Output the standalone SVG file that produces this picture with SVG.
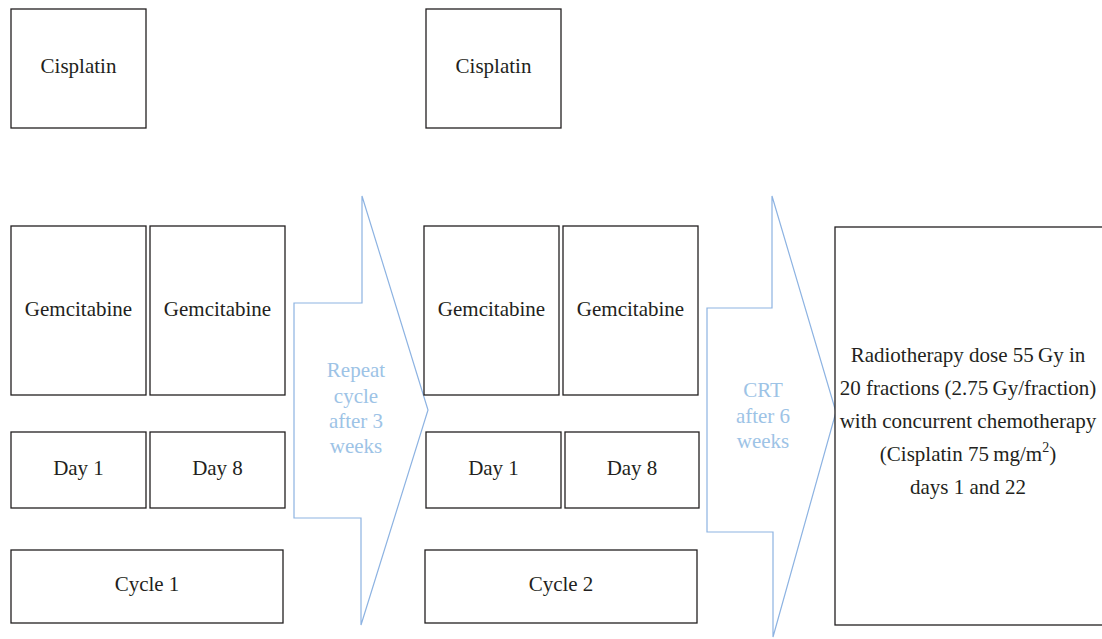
<svg xmlns="http://www.w3.org/2000/svg" width="1102" height="639" viewBox="0 0 1102 639">
<style>
.box{fill:#fff;stroke:#231f20;stroke-width:1.3}
.t{font-family:'Liberation Serif','Times New Roman','DejaVu Serif',serif;font-size:21px;fill:#231f20;text-anchor:middle}
.arrow{fill:#fff;stroke:#8db3e2;stroke-width:1.2}
.at{font-family:'Liberation Serif','Times New Roman','DejaVu Serif',serif;font-size:21px;fill:#9dc3e6;text-anchor:middle}
</style>
<rect width="1102" height="639" fill="#fff"/>
<g id="connectors">
<g id="arrow1"><polygon class="arrow" points="294,303 362,303 362,196 428,410 361,625 361,518 294,518"/>
<text class="at"><tspan x="356" y="377">Repeat</tspan><tspan x="356" y="403">cycle</tspan><tspan x="356" y="428">after 3</tspan><tspan x="356" y="453">weeks</tspan></text></g>
<g id="arrow2"><polygon class="arrow" points="707,308 772,308 772,196 836,412 773,637 773,532 707,532"/>
<text class="at"><tspan x="763" y="397">CRT</tspan><tspan x="763" y="423">after 6</tspan><tspan x="763" y="448">weeks</tspan></text></g>
</g>
<g id="cisplatin1"><rect class="box" x="11" y="9" width="135" height="119"/><text class="t" x="78.5" y="73">Cisplatin</text></g>
<g id="gem1a"><rect class="box" x="11" y="226" width="135" height="169"/><text class="t" x="78.5" y="316">Gemcitabine</text></g>
<g id="gem1b"><rect class="box" x="150" y="226" width="135" height="169"/><text class="t" x="217.5" y="316">Gemcitabine</text></g>
<g id="day1a"><rect class="box" x="11" y="432" width="135" height="76"/><text class="t" x="78.5" y="475">Day 1</text></g>
<g id="day8a"><rect class="box" x="150" y="432" width="135" height="76"/><text class="t" x="217.5" y="475">Day 8</text></g>
<g id="cycle1"><rect class="box" x="11" y="550" width="272" height="73"/><text class="t" x="147" y="591">Cycle 1</text></g>
<g id="cisplatin2"><rect class="box" x="426" y="9" width="135" height="119"/><text class="t" x="493.5" y="73">Cisplatin</text></g>
<g id="gem2a"><rect class="box" x="424" y="226" width="135" height="169"/><text class="t" x="491.5" y="316">Gemcitabine</text></g>
<g id="gem2b"><rect class="box" x="563" y="226" width="135" height="169"/><text class="t" x="630.5" y="316">Gemcitabine</text></g>
<g id="day1b"><rect class="box" x="426" y="432" width="135" height="76"/><text class="t" x="493.5" y="475">Day 1</text></g>
<g id="day8b"><rect class="box" x="565" y="432" width="134" height="76"/><text class="t" x="632" y="475">Day 8</text></g>
<g id="cycle2"><rect class="box" x="425" y="550" width="272" height="73"/><text class="t" x="561" y="591">Cycle 2</text></g>
<g id="crt"><rect class="box" x="835" y="227" width="280" height="398"/>
<text class="t"><tspan x="968" y="362">Radiotherapy dose 55&#8201;Gy in</tspan><tspan x="968" y="395">20 fractions (2.75&#8201;Gy/fraction)</tspan><tspan x="968" y="428">with concurrent chemotherapy</tspan></text>
<text class="t" x="968" y="461">(Cisplatin 75&#8201;mg/m<tspan font-size="14" dy="-9">2</tspan><tspan dy="9">)</tspan></text>
<text class="t" x="968" y="494">days 1 and 22</text></g>
</svg>
